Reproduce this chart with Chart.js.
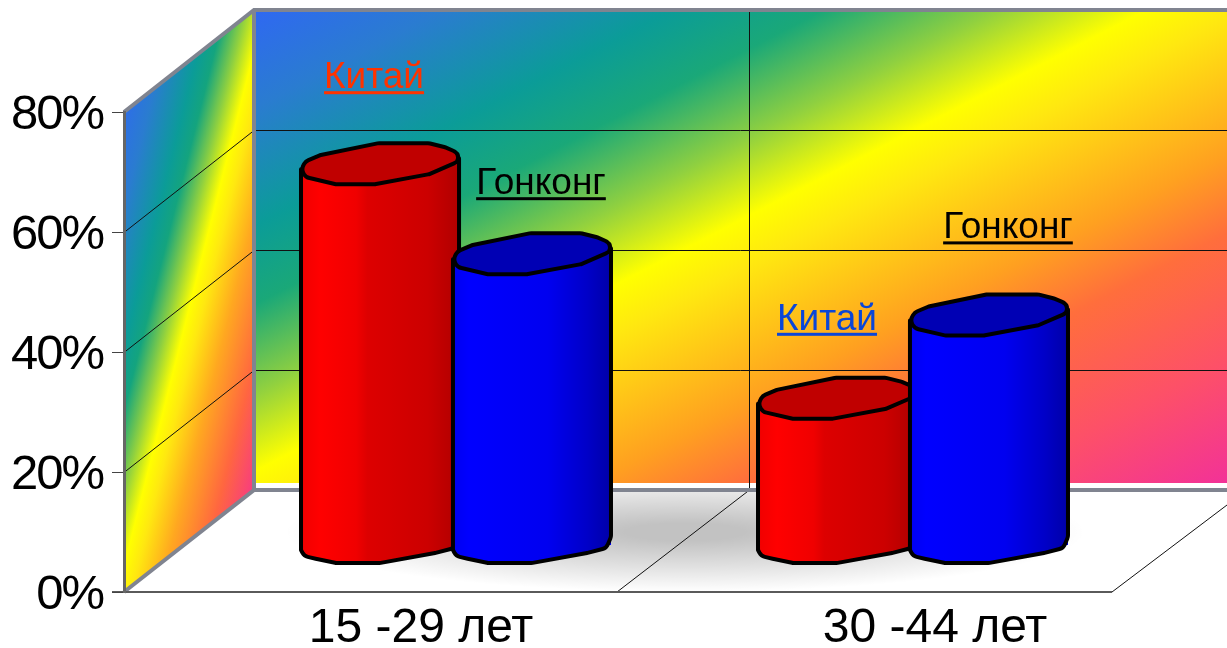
<!DOCTYPE html>
<html><head><meta charset="utf-8">
<style>html,body{margin:0;padding:0;background:#fff}canvas{display:block}</style>
<script src="https://cdn.jsdelivr.net/npm/chart.js@4"></script>
</head><body><canvas id="c" width="1227" height="648"></canvas>
<script>
const categories = ['15 -29 лет', '30 -44 лет'];
const seriesNames = ['Китай', 'Гонконг'];
const chinaValues = [63.3, 24.2];
const hongKongValues = [48.3, 38.1];
const axisTicks = [0, 20, 40, 60, 80];

const DEPTH_X = 130, DEPTH_Y = 102, WALL_GAP = 7;
const STOPS = [[0,'#2f68f2'],[.1,'#2a7cd0'],[.22,'#0b9c98'],[.3,'#1aa878'],[.39,'#8fd040'],[.47,'#ffff00'],[.52,'#ffe810'],[.66,'#ffa020'],[.74,'#ff6e3c'],[.87,'#fd5068'],[1,'#f2309a']];
const LEFT_STOPS = [[0,'#2f68f2'],[.15,'#2a7cd0'],[.3,'#0b9c98'],[.37,'#14a47e'],[.46,'#8fd040'],[.54,'#ffff00'],[.6,'#ffe810'],[.72,'#ffa820'],[.88,'#ff6640'],[1,'#f8407a']];
function grad(ctx,x0,y0,x1,y1,stops){const g=ctx.createLinearGradient(x0,y0,x1,y1);stops.forEach(s=>g.addColorStop(s[0],s[1]));return g;}
function roundPoly(ctx,pts,r){
 const n=pts.length,m=(a,b)=>[(a[0]+b[0])/2,(a[1]+b[1])/2];
 const s=m(pts[n-1],pts[0]);ctx.beginPath();ctx.moveTo(s[0],s[1]);
 for(let i=0;i<n;i++){const p=pts[i],q=pts[(i+1)%n];const e=m(p,q);
  const rad=p[2]===undefined?r:p[2];ctx.arcTo(p[0],p[1],e[0],e[1],rad);}
 ctx.closePath();
}

const TOP_FACE=[[0,4],[.03,-4],[.12,-10],[.49,-22],[.81,-22],[.91,-18],[.985,-13],[1,-7],[.985,-3],[.81,9],[.47,19],[.22,19],[.03,12]];
const BOTTOM=[[0,5],[.02,11],[.1,14],[.22,18],[.5,18],[.85,8],[.97,3],[1,-8]];
const SKINS=[
 {stops:[[0,'#f00000'],[.12,'#ff0000'],[.35,'#f00000'],[.42,'#dd0000'],[.8,'#cc0000'],[1,'#b00000']],top:'#c00000'},
 {stops:[[0,'#0000f0'],[.1,'#0000ff'],[.6,'#0000f0'],[.85,'#0000c8'],[1,'#0000a8']],top:'#0000b4'}
];
const NOTES=[
 {s:0,c:0,dx:-6,base:-77,color:'#ff3300'},
 {s:1,c:0,dx:9,base:-61,color:'#000000'},
 {s:0,c:1,dx:-10,base:-70,color:'#0a46d8'},
 {s:1,c:1,dx:19,base:-78,color:'#000000'}
];

const scenery={id:'scenery',
 afterLayout(chart){
  const s=chart.scales, a=chart.chartArea;
  s.x.left=164;s.x.right=1192;s.x.configure();
  s.xb.left=227.5;s.xb.right=1141.5;s.xb.configure();
  s.yb.top=a.top-47;s.yb.bottom=a.bottom-47;s.yb.configure();
  if(!s.y._tight){const orig=s.y.drawLabels,ctx=chart.ctx;s.y._tight=true;
   s.y.drawLabels=function(ca){ctx.letterSpacing='-2px';orig.call(this,ca);ctx.letterSpacing='0px';};}
 },
 beforeDraw(chart){
  const ctx=chart.ctx,a=chart.chartArea,y=chart.scales.y,W=chart.width;
  const L=a.left,B=a.bottom,T=a.top,bL=L+DEPTH_X,bB=B-DEPTH_Y,bT=T-DEPTH_Y;
  ctx.save();
  ctx.fillStyle='#fff';ctx.fillRect(0,0,W,chart.height);
  // floor shadow
  ctx.save();ctx.beginPath();ctx.moveTo(L,B);ctx.lineTo(bL,bB);ctx.lineTo(W,bB);ctx.lineTo(W,bB+15);ctx.lineTo(1112,B);ctx.closePath();ctx.clip();
  ctx.translate(685,532);ctx.scale(1,.15);
  const sh=ctx.createRadialGradient(0,0,60,0,0,400);
  sh.addColorStop(0,'rgba(0,0,0,.24)');sh.addColorStop(.5,'rgba(0,0,0,.12)');sh.addColorStop(1,'rgba(0,0,0,0)');
  ctx.fillStyle=sh;ctx.fillRect(-700,-700,1400,1400);ctx.restore();
  // back wall
  ctx.fillStyle=grad(ctx,bL,bT,655,785,STOPS);
  ctx.fillRect(bL,bT,W-bL,bB-bT-WALL_GAP);
  // left wall
  ctx.beginPath();ctx.moveTo(L,T);ctx.lineTo(bL,bT);ctx.lineTo(bL,bB);ctx.lineTo(L,B);ctx.closePath();
  ctx.fillStyle=grad(ctx,L-10,T-2,L+208,T+53,LEFT_STOPS);ctx.fill();
  // grid
  ctx.strokeStyle='#111';ctx.lineWidth=1;
  ctx.beginPath();
  axisTicks.forEach(v=>{const p=Math.round(y.getPixelForValue(v))+.5;
   if(v>0&&v<80){ctx.moveTo(L,p);ctx.lineTo(bL,p-DEPTH_Y);ctx.lineTo(W,p-DEPTH_Y);}
  });
  ctx.moveTo(749.5,bT);ctx.lineTo(749.5,bB);ctx.lineTo(617,B);
  ctx.moveTo(W,bB+15);ctx.lineTo(1112,B);
  ctx.stroke();
  // frame
  ctx.strokeStyle='#808490';ctx.lineWidth=4;
  ctx.beginPath();ctx.moveTo(L,T);ctx.lineTo(bL,bT);ctx.lineTo(W,bT);ctx.moveTo(bL,bT);ctx.lineTo(bL,bB);ctx.lineTo(L,B);
  ctx.moveTo(bL,bB);ctx.lineTo(W,bB);ctx.stroke();
  ctx.strokeStyle='#5a5a5a';ctx.lineWidth=2;
  ctx.beginPath();ctx.moveTo(L-12,B);ctx.lineTo(1112,B);ctx.stroke();
  ctx.restore();
 },
 afterDatasetsDraw(chart){
  const ctx=chart.ctx,base=chart.scales.yb.getPixelForValue(0);
  chart.data.datasets.forEach((ds,index)=>{
   const skin=SKINS[index];
   chart.getDatasetMeta(index).data.forEach(el=>{
    const w=el.width,x0=el.x-w/2,yt=el.y;
    ctx.save();ctx.lineJoin='round';ctx.lineWidth=4;ctx.strokeStyle='#000';
    const body=[[x0,yt+4,0],[x0,base+5]];
    BOTTOM.forEach(p=>body.push([x0+p[0]*w,base+p[1]]));
    body.push([x0+w,yt-7,0]);
    roundPoly(ctx,body,8);
    ctx.fillStyle=grad(ctx,x0,0,x0+w,0,skin.stops);
    ctx.fill();ctx.stroke();
    roundPoly(ctx,TOP_FACE.map(p=>[x0+p[0]*w,yt+p[1]]),9);
    ctx.fillStyle=skin.top;ctx.fill();ctx.stroke();
    ctx.restore();
   });
  });
  ctx.save();ctx.font='37px "Liberation Sans"';ctx.textAlign='center';ctx.textBaseline='alphabetic';
  NOTES.forEach(n=>{
   const el=chart.getDatasetMeta(n.s).data[n.c],t=seriesNames[n.s];
   const x=el.x+n.dx,y=el.y+n.base,w=ctx.measureText(t).width;
   ctx.fillStyle=n.color;ctx.fillText(t,x,y);ctx.fillRect(x-w/2,y+3,w,3);
  });
  ctx.restore();
 }
};

const BAR={xAxisID:'xb',yAxisID:'yb',clip:false,borderWidth:0,categoryPercentage:.665,barPercentage:1.04};
new Chart(document.getElementById('c'),{
 type:'bar',
 plugins:[scenery],
 data:{labels:categories,datasets:[
  Object.assign({label:seriesNames[0],data:chinaValues,backgroundColor:'#ff0000'},BAR),
  Object.assign({label:seriesNames[1],data:hongKongValues,backgroundColor:'#0000ff'},BAR)
 ]},
 options:{
  responsive:false,animation:false,devicePixelRatio:1,
  layout:{padding:{top:112,left:0,right:0,bottom:0}},
  plugins:{legend:{display:false},tooltip:{enabled:false},title:{display:false}},
  scales:{
   x:{type:'category',offset:true,position:'bottom',border:{display:false},grid:{display:false},
      afterFit(s){s.height=56;},
      ticks:{autoSkip:false,maxRotation:0,minRotation:0,padding:0,color:'#000',font:{family:'"Liberation Sans"',size:48}}},
   xb:{type:'category',offset:true,display:false,position:'bottom'},
   yb:{type:'linear',display:false,min:0,max:80,position:'left'},
   y:{type:'linear',min:0,max:80,position:'left',
      afterFit(s){s.width=124;},
      afterBuildTicks(s){s.ticks=axisTicks.map(v=>({value:v}));},
      border:{display:true,color:'#666',width:3},
      grid:{drawOnChartArea:false,drawTicks:true,tickLength:12,color:'#444'},
      ticks:{padding:9,labelOffset:3,color:'#000',callback:v=>v+'%',font:{family:'"Liberation Sans"',size:49}}}
  }
 }
});
</script></body></html>
